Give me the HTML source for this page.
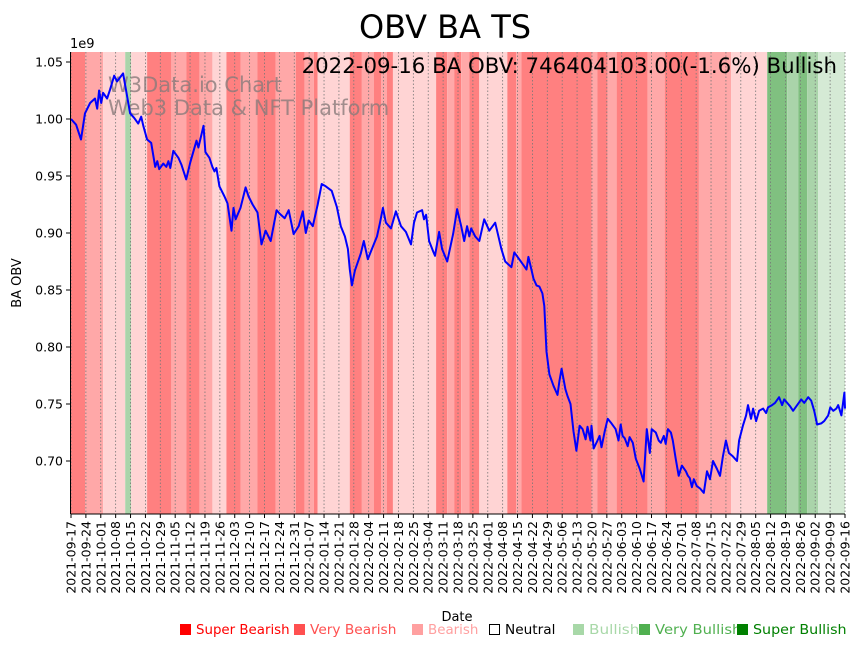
<!DOCTYPE html>
<html><head><meta charset="utf-8"><style>
body{margin:0;background:#fff;width:862px;height:646px;overflow:hidden;font-family:"DejaVu Sans","Liberation Sans",sans-serif}
svg text{font-family:"DejaVu Sans","Liberation Sans",sans-serif}
</style></head><body>
<svg id="chart" width="862" height="646" xmlns="http://www.w3.org/2000/svg">
<g id="bands"></g>
<g id="grid"></g>
<text x="108" y="92" font-size="21" fill="#8a7a7a" fill-opacity="0.8">W3Data.io Chart</text>
<text x="108" y="115" font-size="21" fill="#8a7a7a" fill-opacity="0.8">Web3 Data &amp; NFT Platform</text>
<g id="line"></g>
<g id="axes"></g>
<text x="445" y="38" font-size="32" text-anchor="middle">OBV BA TS</text>
<text x="837" y="73" font-size="21.3" text-anchor="end">2022-09-16 BA OBV: 746404103.00(-1.6%) Bullish</text>
<text x="70" y="48" font-size="13">1e9</text>
<text transform="translate(21,283) rotate(-90)" font-size="13" text-anchor="middle">BA OBV</text>
<text x="457" y="621" font-size="13" text-anchor="middle">Date</text>
<g id="legend"></g>
</svg>
<script>
const days=[0,2.4,4.7,6.6,9.0,11.3,12.3,13.2,14.2,15.1,17.0,18.4,20.3,21.7,24.5,25.9,27.8,29.7,31.6,33.0,34.0,35.8,37.7,39.6,40.6,41.5,43.4,44.8,45.8,46.7,48.1,50.5,51.9,54.2,56.1,59.0,59.9,62.3,63.2,65.1,66.5,67.5,68.4,69.8,72.2,73.6,75.5,76.4,77.4,79.7,82.1,83.5,85.4,87.7,89.6,91.5,93.9,96.7,98.1,100.5,102.4,104.7,107.1,109.0,110.4,111.8,113.7,116.0,117.9,119.8,122.6,125.0,126.9,128.8,130.2,131.1,132.1,133.5,136.3,137.7,139.6,141.5,143.9,145.3,146.7,148.1,150.5,152.8,155.2,157.5,159.9,161.3,162.7,165.1,166.0,167.0,168.4,170.3,171.2,173.1,174.5,176.9,179.7,181.6,183.5,184.9,186.3,187.3,188.2,190.1,192.0,194.3,196.7,199.5,202.4,204.2,207.1,208.5,210.8,212.7,214.2,215.1,216.5,217.5,218.9,220.3,221.7,222.6,223.6,225.0,226.9,228.8,229.7,230.7,232.5,233.5,234.9,236.3,237.7,239.2,240.6,242.0,242.9,244.3,244.8,245.8,247.6,248.6,249.5,251.0,252.4,254.2,256.1,257.5,258.5,259.4,260.4,261.8,262.7,264.2,265.6,267.5,269.3,270.8,272.2,273.1,275.0,276.4,277.4,278.8,279.7,280.7,282.1,283.0,284.4,285.8,287.3,289.2,290.1,291.0,292.0,292.9,294.3,295.8,297.6,299.1,300.5,301.9,303.8,305.2,306.6,308.0,309.4,311.3,313.2,314.2,316.0,317.5,318.4,319.8,320.8,322.2,323.6,325.5,326.9,327.8,329.7,331.1,333.0,334.4,335.4,336.8,338.2,339.6,341.5,343.4,344.8,346.7,348.1,349.5,350.9,352.8,354.2,356.1,357.1,358.5,359.9,360.8,362.3,363.7,364];
const obv=[1.000,.995,.982,1.005,1.014,1.018,1.009,1.025,1.014,1.023,1.018,1.026,1.038,1.033,1.040,1.025,1.005,1.001,.996,1.002,.994,.982,.979,.958,.963,.956,.961,.958,.963,.957,.972,.966,.960,.947,.962,.981,.975,.994,.971,.966,.958,.954,.957,.941,.932,.926,.902,.922,.912,.922,.940,.932,.925,.918,.890,.902,.893,.920,.917,.913,.920,.899,.906,.919,.900,.911,.906,.925,.943,.941,.937,.923,.906,.897,.886,.868,.854,.867,.882,.893,.877,.886,.897,.909,.922,.909,.904,.919,.906,.901,.890,.909,.918,.920,.912,.916,.893,.884,.880,.901,.886,.875,.899,.921,.906,.893,.906,.897,.904,.897,.893,.912,.902,.909,.886,.875,.870,.883,.877,.872,.868,.879,.868,.860,.854,.853,.847,.836,.796,.776,.766,.758,.770,.781,.763,.757,.750,.726,.709,.731,.728,.719,.730,.718,.731,.711,.718,.722,.712,.726,.737,.733,.728,.718,.732,.722,.720,.713,.721,.716,.702,.693,.682,.728,.707,.728,.725,.718,.716,.722,.715,.728,.725,.718,.702,.687,.696,.691,.687,.685,.677,.684,.678,.676,.672,.691,.684,.700,.693,.687,.704,.718,.707,.704,.700,.718,.731,.740,.749,.737,.746,.735,.744,.746,.742,.747,.749,.751,.756,.749,.754,.751,.748,.744,.749,.754,.751,.756,.753,.744,.732,.733,.735,.740,.747,.744,.746,.749,.740,.760,.746];
const bandStart=[0,6.6,15.1,25.5,28.3,35.8,47.2,54.2,60.4,66.5,73.1,79.7,87.7,96.2,105.7,109.9,114.2,116,131.1,136.8,142.5,145.8,148.6,151.4,171.7,176.9,180.2,183.5,187.3,192,205.2,209.4,211.8,244.8,247.6,252.4,256.6,271.2,279.2,295.3,310.4,327.4,336.8,342,346.2,351.4];
const bandEnd=[6.6,15.1,25.5,28.3,35.8,47.2,54.2,60.4,66.5,73.1,79.7,87.7,96.2,105.7,109.9,114.2,116,131.1,136.8,142.5,145.8,148.6,151.4,171.7,176.9,180.2,183.5,187.3,192,205.2,209.4,211.8,244.8,247.6,252.4,256.6,271.2,279.2,295.3,310.4,327.4,336.8,342,346.2,351.4,365];
const bandLevel=[-3,-2,-1,2,-1,-3,-2,-3,-2,-1,-3,-2,-3,-2,-3,-2,-3,-1,-3,-2,-3,-2,-3,-1,-3,-2,-3,-2,-3,-1,-3,-2,-3,-2,-3,-2,-3,-2,-3,-2,-1,3,2,3,2,1];
const yTicks=[0.70,0.75,0.80,0.85,0.90,0.95,1.00,1.05];
const legendLabels=["Super Bearish","Very Bearish","Bearish","Neutral","Bullish","Very Bullish","Super Bullish"];

const NS="http://www.w3.org/2000/svg";
const X0=71,X1=845,Y0=52,Y1=514;
const xs=d=>X0+d*(X1-X0)/364;
const ys=v=>461-(v-0.70)*1140;
const levelColor={"-3":"#ff8080","-2":"#ffa8a8","-1":"#ffd4d4","1":"#d5ead5","2":"#aad4aa","3":"#80c080"};
function mk(tag,attrs,parent){const e=document.createElementNS(NS,tag);for(const k in attrs)e.setAttribute(k,attrs[k]);parent.appendChild(e);return e;}
const bands=document.getElementById('bands');
for(let i=0;i<bandStart.length;i++){
  const r=mk('rect',{x:xs(bandStart[i]),y:Y0,width:Math.max(0,Math.min(X1,xs(bandEnd[i]))-xs(bandStart[i])),height:Y1-Y0,fill:levelColor[bandLevel[i]]},bands);
  
  
}
const grid=document.getElementById('grid'),axes=document.getElementById('axes');
const start=new Date(Date.UTC(2021,8,17));
for(let d=0;d<=364;d+=7){
  const x=xs(d);
  const g=mk('line',{x1:x,x2:x,y1:Y0,y2:Y1,stroke:'#777','stroke-width':0.8,'stroke-dasharray':'1.5,2'},grid);
  
  
  mk('line',{x1:x,x2:x,y1:Y1,y2:Y1+4,stroke:'#000'},axes);
  const dt=new Date(start.getTime()+d*86400000);
  const s=dt.toISOString().slice(0,10);
  const t=mk('text',{transform:`translate(${x+4.5},${Y1+7}) rotate(-90)`,'font-size':12.5,'text-anchor':'end'},axes);
  t.textContent=s;
  
  
}
yTicks.forEach(v=>{
  const y=ys(v);
  mk('line',{x1:X0-5,x2:X0-1,y1:y,y2:y,stroke:'#000'},axes);
  const t=mk('text',{x:X0-8,y:y+4.5,'font-size':12.5,'text-anchor':'end'},axes);
  t.textContent=v.toFixed(2);
  
  
});
mk('line',{x1:X0-0.5,x2:X0-0.5,y1:Y0,y2:Y1,stroke:'#000'},axes);
mk('line',{x1:X0-0.5,x2:X1,y1:Y1,y2:Y1,stroke:'#000'},axes);
const pts=days.map((d,i)=>xs(d).toFixed(1)+','+ys(obv[i]).toFixed(1)).join(' ');
const pl=mk('polyline',{points:pts,fill:'none',stroke:'#0000ff','stroke-width':2,'stroke-linejoin':'round'},document.getElementById('line'));


const lg=document.getElementById('legend');
const lx=[180,294,412,489,573,639,737];
const lc=["#ff0000","#ff5050","#ffa0a0","#000","#a8d8a8","#50b050","#008000"];
legendLabels.forEach((l,i)=>{
  if(i===3) mk('rect',{x:lx[i]+0.5,y:624.5,width:10,height:10,fill:'none',stroke:'#000'},lg);
  else mk('rect',{x:lx[i],y:624,width:11,height:11,fill:lc[i]},lg);
  const t=mk('text',{x:lx[i]+16,y:634,'font-size':13,fill:lc[i],textLength:l.length*7.2,lengthAdjust:'spacingAndGlyphs'},lg);
  t.textContent=l;
  
  
});
</script>
</body></html>
